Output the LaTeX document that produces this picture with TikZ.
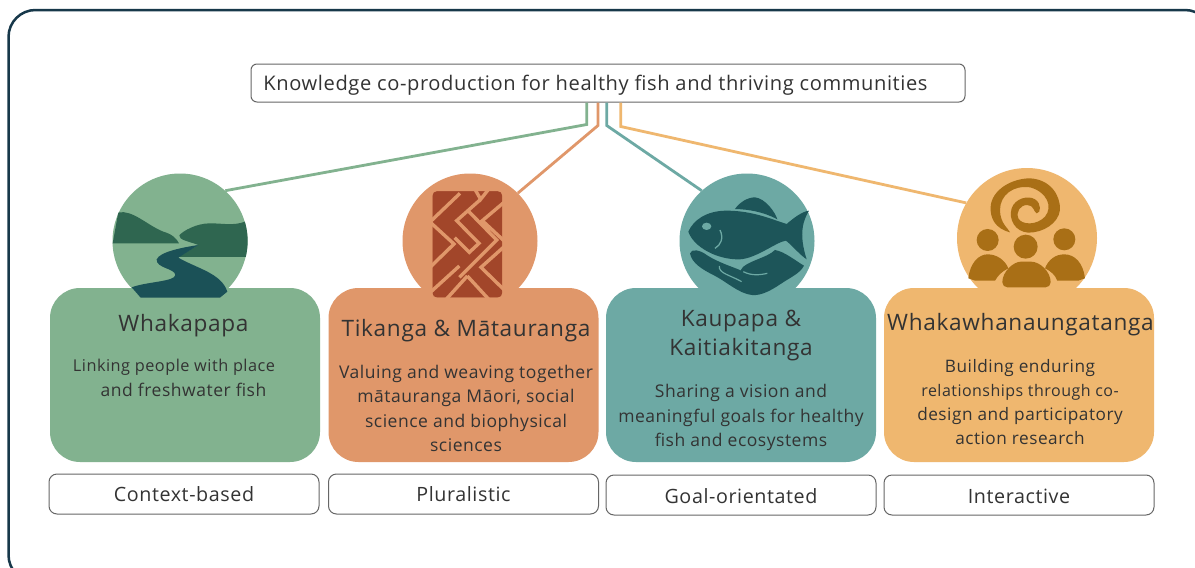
\documentclass[tikz,border=0pt]{standalone}
\usetikzlibrary{calc}
\usepackage{fontspec}
\setmainfont[LetterSpace=3]{Open Sans}
\definecolor{cgreen}{HTML}{82B28F}
\definecolor{corange}{HTML}{E0976A}
\definecolor{cteal}{HTML}{6DA9A4}
\definecolor{cyellow}{HTML}{EFB76F}
\definecolor{dhill}{HTML}{2F6650}
\definecolor{driver}{HTML}{1B5157}
\definecolor{dred}{HTML}{A2462A}
\definecolor{dfish}{HTML}{1D5559}
\definecolor{dbrown}{HTML}{A96F16}
\definecolor{frame}{HTML}{17384A}
\definecolor{txt}{HTML}{333333}
\tikzset{
  card/.style={rounded corners=30pt,minimum width=#1,minimum height=174pt,inner sep=0pt},
  disc/.style={circle,minimum size=135pt,inner sep=0pt},
  tagbox/.style={draw=black!60,line width=1pt,fill=white,rounded corners=8pt,minimum width=270pt,minimum height=40pt,inner sep=0pt},
  tagtext/.style={text=txt,font=\fontsize{19.7}{24}\selectfont,inner sep=0pt},
  head/.style={text=txt,font=\fontsize{22.6}{29}\selectfont,align=center,inner sep=0pt},
  bodytext/.style={text=txt,font=\fontsize{17.5}{24.3}\selectfont,align=center,inner sep=0pt},
  link/.style={line width=2.8pt,line join=miter},
  icon/.style={shift={(#1)},x=0.3333pt,y=-0.3333pt},
}
\begin{document}
\begin{tikzpicture}[x=1pt,y=-1pt]
\useasboundingbox (0,0) rectangle (1195,568);
\clip (0,0) rectangle (1195,568);
\fill[white] (0,0) rectangle (1195,568);
\draw[frame,line width=2.5pt,rounded corners=27pt] (8.5,10) rectangle (1212,582);

% discs
\node[disc,fill=cgreen] (d1) at (180,241) {};
\node[disc,fill=corange] (d2) at (470,241) {};
\node[disc,fill=cteal] (d3) at (747,241) {};
\node[disc,fill=cyellow,minimum size=140pt] (d4) at (1027,238) {};

% title
\node[draw=black!60,line width=1pt,fill=white,rounded corners=6pt,minimum width=714pt,minimum height=38pt,inner sep=0pt] (title) at (608,83) {};
\node[text=txt,font=\fontsize{20.1}{24}\selectfont,inner sep=0pt] (titletext) at (595.5,85.5) {Knowledge co-production for healthy fish and thriving communities};

% connectors
\coordinate (t1) at ($(title.south)+(-21.3,0)$);
\coordinate (t2) at ($(title.south)+(-10,0)$);
\coordinate (t3) at ($(title.south)+(-1.3,0)$);
\coordinate (t4) at ($(title.south)+(12.7,0)$);
\draw[link,cgreen] (t1) -- ++(0,22) -- (d1.48);
\draw[link,corange] (t2) -- ++(0,23) -- (d2.45.6);
\draw[link,cteal] (t3) -- ++(0,23) -- (d3.132);
\draw[link,cyellow] (t4) -- ++(0,24) -- (d4.150);

% cards
\node[card=270pt,fill=cgreen] (c1) at (185,375) {};
\node[card=270pt,fill=corange] (c2) at (463.5,375) {};
\node[card=270pt,fill=cteal] (c3) at (741,375) {};
\node[card=270pt,fill=cyellow] (c4) at (1019,375) {};

% icon 1: landscape
\begin{scope}[icon={50,160}]
\begin{scope}
\clip (390,243) circle (203);
\fill[dhill] (180,250) -- (188,250) -- (205,157) .. controls (250,150) and (290,195) .. (340,215) .. controls (365,222) and (380,235) .. (387,250) -- cycle;
\fill[dhill] (445,255) .. controls (420,245) and (385,240) .. (388,226) .. controls (400,212) and (440,190) .. (480,190) .. controls (520,190) and (550,198) .. (585,185) -- (600,180) -- (600,291) -- (385,291) -- cycle;
\end{scope}
\fill[driver] (445,255) .. controls (400,262) and (330,275) .. (320,298) .. controls (318,325) and (375,325) .. (376,345) .. controls (375,365) and (290,365) .. (245,382) -- (272,413) -- (510,413) -- (532,395) .. controls (515,340) and (440,325) .. (385,293) -- cycle;
\end{scope}

% icon 2: pattern
\begin{scope}[icon={380,160}]
\fill[dred,rounded corners=5pt] (157,93) rectangle (367,413);
\draw[corange,line width=3.4pt,line join=miter]
  (240,100) -- (150,186) -- (222,252) -- (150,322)
  (285,88) -- (302,118) -- (328,85)
  (302,118) -- (230,182) -- (297,250) -- (268,277) -- (224,233)
  (262,150) -- (350,240) -- (238,352)
  (378,122) -- (307,182) -- (378,248)
  (378,255) -- (303,322) -- (378,395)
  (238,318) -- (150,398)
  (262,348) -- (195,422)
  (262,348) -- (330,422);
\fill[corange] (150,85) rectangle (157,420) (367,85) rectangle (374,420);
\fill[corange] (150,85) rectangle (374,93) (150,413) rectangle (374,420);
\end{scope}

% icon 3: fish and hand
\begin{scope}[icon={660,170}]
\fill[dfish] (85,185) .. controls (100,150) and (140,122) .. (200,122) .. controls (280,122) and (340,150) .. (380,162) .. controls (400,145) and (425,125) .. (447,122) .. controls (430,150) and (415,190) .. (440,268) .. controls (420,255) and (395,225) .. (378,212) .. controls (350,215) and (290,265) .. (240,268) .. controls (170,270) and (100,230) .. (85,185) -- cycle;
\fill[dfish] (225,117) .. controls (240,95) and (265,82) .. (285,82) .. controls (315,85) and (345,125) .. (352,148) .. controls (310,125) and (265,118) .. (225,117) -- cycle;
\fill[cteal] (140,169) ellipse (14 and 11);
\draw[cteal,line width=1.3pt] (180,180) .. controls (192,205) and (182,225) .. (165,235);
\fill[dfish] (90,250) .. controls (95,235) and (120,240) .. (140,255) .. controls (170,275) and (215,290) .. (240,300) .. controls (260,272) and (320,265) .. (345,240) .. controls (375,245) and (410,275) .. (432,287) .. controls (420,310) and (395,320) .. (365,340) .. controls (335,360) and (305,378) .. (275,375) .. controls (235,370) and (200,335) .. (160,315) .. controls (130,300) and (95,280) .. (90,250) -- cycle;
\draw[cteal,line width=1.2pt] (178,288) .. controls (175,310) and (210,315) .. (245,335);
\draw[cteal,line width=1.2pt] (250,305) .. controls (275,318) and (300,315) .. (322,310);
\draw[cteal,line width=1.2pt] (240,300) -- (250,285);
\end{scope}

% icon 4: spiral and people
\begin{scope}[icon={940,160}]
\fill[dbrown] (210,217) .. controls (165,205) and (150,175) .. (152,140) .. controls (155,90) and (215,55) .. (270,55) .. controls (330,58) and (362,105) .. (360,150) .. controls (355,190) and (310,218) .. (265,218) .. controls (225,215) and (205,178) .. (215,145) .. controls (225,115) and (265,105) .. (285,118) .. controls (305,130) and (303,160) .. (290,160) .. controls (282,158) and (282,135) .. (262,135) .. controls (240,135) and (228,155) .. (235,175) .. controls (245,195) and (290,197) .. (315,170) .. controls (340,140) and (320,95) .. (270,82) .. controls (220,75) and (180,105) .. (180,150) .. controls (180,190) and (205,205) .. (210,217) -- cycle;
\fill[dbrown] (143,240) circle (33) (257,260) circle (36) (373,238) circle (33);
\fill[dbrown] (85,355) .. controls (90,310) and (115,283) .. (143,283) .. controls (170,283) and (195,300) .. (205,325) .. controls (185,335) and (175,345) .. (165,362) -- (105,362) -- cycle;
\fill[dbrown] (435,355) .. controls (430,310) and (405,283) .. (373,283) .. controls (345,283) and (325,300) .. (315,325) .. controls (335,335) and (345,345) .. (352,362) -- (415,362) -- cycle;
\fill[dbrown,rounded corners=5pt] (187,382) .. controls (187,335) and (220,305) .. (258,305) .. controls (300,305) and (332,335) .. (332,382) -- cycle;
\end{scope}

% card texts
\node[head] (h1) at (183.5,326) {Whakapapa};
\node[bodytext,font=\fontsize{16.3}{24}\selectfont] (b1) at (174,367) {Linking people with place};
\node[bodytext] (b1b) at (183.5,390) {and freshwater fish};
\node[head] (h2) at (466,331) {Tikanga \& Mātauranga};
\node[bodytext] (b2) at (466,408.5) {Valuing and weaving together\\mātauranga Māori, social\\science and biophysical\\sciences};
\node[head] (h3) at (741,336) {Kaupapa \&\\Kaitiakitanga};
\node[bodytext] (b3) at (741,417.5) {Sharing a vision and\\meaningful goals for healthy\\fish and ecosystems};
\node[head] (h4) at (1020.5,325) {Whakawhanaungatanga};
\node[bodytext,font=\fontsize{17.2}{24.3}\selectfont] (b4) at (1020,402) {Building enduring\\{\fontsize{16}{24.3}\selectfont relationships through co-}\\design and participatory\\action research};

% tags
\node[tagbox] (g1) at (184,494) {};
\node[tagbox] (g2) at (463.5,494) {};
\node[tagbox] (g3) at (741,495) {};
\node[tagbox] (g4) at (1019,495) {};
\node[tagtext] (gt1) at (184,494.5) {Context-based};
\node[tagtext] (gt2) at (463.5,494) {Pluralistic};
\node[tagtext] (gt3) at (741,496.5) {Goal-orientated};
\node[tagtext] (gt4) at (1019,496.5) {Interactive};
\end{tikzpicture}
\end{document}
